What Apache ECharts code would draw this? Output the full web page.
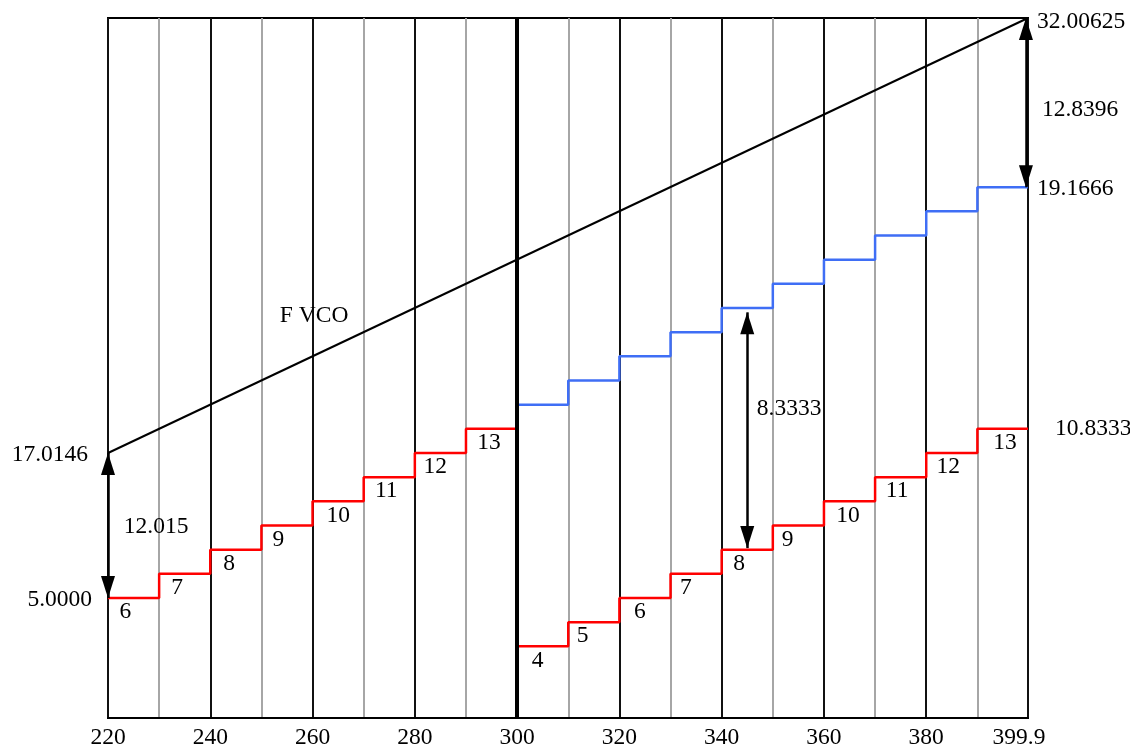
<!DOCTYPE html>
<html>
<head>
<meta charset="utf-8">
<script src="https://cdn.jsdelivr.net/npm/echarts@6/dist/echarts.min.js"></script>
<style>
html, body { margin: 0; padding: 0; background: #fff; }
#main { width: 1130px; height: 751px; }
</style>
</head>
<body>
<div id="main"></div>
<script>
// x tick labels (every 20) and end of range
var xTicks = ['220', '240', '260', '280', '300', '320', '340', '360', '380', '399.9'];
var xMin = 220, xMax = 399.9;

// red step: divider segments before and after 300
var redStarts = [220, 230, 240, 250, 260, 270, 280, 290, 300, 310, 320, 330, 340, 350, 360, 370, 380, 390];
var redValues = [5.0000, 5.8333, 6.6667, 7.5000, 8.3333, 9.1667, 10.0000, 10.8333,
                 3.3333, 4.1667, 5.0000, 5.8333, 6.6667, 7.5000, 8.3333, 9.1667, 10.0000, 10.8333];
var redNames = ['6', '7', '8', '9', '10', '11', '12', '13', '4', '5', '6', '7', '8', '9', '10', '11', '12', '13'];
var redNameX = [223.4, 233.5, 243.7, 253.3, 265, 274.4, 284, 294.5,
                304, 312.8, 324, 333, 343.4, 352.9, 364.7, 374.3, 384.3, 395.4];

// blue step after 300
var blueStarts = [300, 310, 320, 330, 340, 350, 360, 370, 380, 390];
var blueValues = [11.6667, 12.5000, 13.3333, 14.1667, 15.0000, 15.8333, 16.6667, 17.5000, 18.3333, 19.1666];

// F VCO line (schematic)
var fvcoX = [220, 399.9];
var fvcoY = [10, 25];

// double arrows: x, from y, to y
var arrowX = [220, 345, 399.5];
var arrowFrom = [10, 14.85, 25];
var arrowTo = [5, 6.72, 19.1666];

// free text notes
var noteTexts = ['12.015', '8.3333', '12.8396', 'F VCO'];
var noteX = [229.4, 353.2, 410.1, 260.3];
var noteY = [7.45, 11.52, 21.83, 14.72];

// value labels at the edges
var edgeTexts = ['17.0146', '5.0000', '32.00625', '19.1666', '10.8333'];
var edgeX = [220, 220, 399.9, 399.9, 399.9];
var edgeY = [10, 5, 25, 19.1666, 10.8333];

var FONT = 'Liberation Serif';
var FS = 23.5;

var chart = echarts.init(document.getElementById('main'));

function stepData(starts, values) {
    var d = starts.map(function (s, i) { return [s, values[i]]; });
    d.push([xMax, values[values.length - 1]]);
    return d;
}

var redLabelData = redStarts.map(function (s, i) {
    return { value: [redNameX[i], redValues[i]], name: redNames[i] };
});

var noteData = noteTexts.map(function (t, i) {
    return { value: [noteX[i], noteY[i]], name: t };
});

var edgeOffsets = [[-20, 2], [-16, 2], [9, 4], [9, 2], [27, 0]];
var edgeData = edgeTexts.map(function (t, i) {
    var left = edgeX[i] === xMin;
    return {
        value: [edgeX[i], edgeY[i]], name: t,
        label: { align: left ? 'right' : 'left', offset: edgeOffsets[i] }
    };
});

var arrowLines = arrowX.map(function (x, i) {
    return [{ coord: [x, arrowFrom[i]] }, { coord: [x, arrowTo[i]] }];
});

// triangle whose tip sits at the centre of its box
var ARROW_HEAD = 'path://M0,0 L7,22 L-7,22 Z M0,-22 L0,-22';

var textStyle = { show: true, position: 'inside', color: '#000', fontFamily: FONT, fontSize: FS,
                  textBorderWidth: 0, opacity: 1,
                  formatter: function (p) { return p.name; } };

function textSeries(data, label) {
    return {
        type: 'scatter', symbolSize: 0, clip: false, silent: true, z: 5,
        itemStyle: { opacity: 1, color: '#000' },
        data: data, label: label
    };
}

var option = {
    animation: false,
    grid: { left: 108, right: 102, top: 18, bottom: 33, show: true, borderColor: '#000', borderWidth: 2 },
    xAxis: {
        type: 'value', min: xMin, max: xMax, interval: 10,
        axisLine: { show: true, lineStyle: { color: '#000', width: 2 } },
        axisTick: { show: false },
        axisLabel: {
            color: '#000', fontFamily: FONT, fontSize: FS, margin: 8,
            showMinLabel: true, showMaxLabel: true,
            formatter: function (v) {
                var s = String(Math.round(v * 10) / 10);
                if (xTicks.indexOf(s) < 0) return '';
                return v === xMax ? '{end|' + s + '}' : s;
            },
            rich: {
                end: { color: '#000', fontFamily: FONT, fontSize: FS, padding: [0, 18, 0, 0] }
            }
        },
        splitLine: { show: true, lineStyle: { color: ['#111', '#a6a6a6'], width: 2 } }
    },
    yAxis: {
        type: 'value', min: 0.862, max: 25,
        axisLine: { show: false }, axisTick: { show: false },
        axisLabel: { show: false }, splitLine: { show: false }
    },
    series: [
        {
            type: 'line', data: [], silent: true, z: 1,
            markLine: {
                silent: true, symbol: 'none', label: { show: false },
                lineStyle: { color: '#000', width: 4, type: 'solid' },
                data: [{ xAxis: 300 }]
            }
        },
        {
            type: 'line', name: 'F VCO', symbol: 'none', z: 2,
            data: fvcoX.map(function (x, i) { return [x, fvcoY[i]]; }),
            lineStyle: { color: '#000', width: 2 }
        },
        {
            type: 'line', name: 'red', step: 'end', symbol: 'none', z: 3,
            data: stepData(redStarts, redValues),
            lineStyle: { color: '#ff0000', width: 2.5 }
        },
        {
            type: 'line', name: 'blue', step: 'end', symbol: 'none', z: 3,
            data: stepData(blueStarts, blueValues),
            lineStyle: { color: '#3f6ef5', width: 2.5 }
        },
        {
            type: 'line', data: [], silent: true, z: 4,
            markLine: {
                silent: true, symbol: [ARROW_HEAD, ARROW_HEAD], symbolSize: [14, 44],
                label: { show: false },
                lineStyle: { color: '#000', width: 2.5, type: 'solid' },
                itemStyle: { color: '#000', borderWidth: 0 },
                data: arrowLines
            }
        },
        textSeries(redLabelData, Object.assign({}, textStyle, { offset: [0, 14] })),
        textSeries(noteData, textStyle),
        textSeries(edgeData, textStyle)
    ]
};

chart.setOption(option);
</script>
</body>
</html>
